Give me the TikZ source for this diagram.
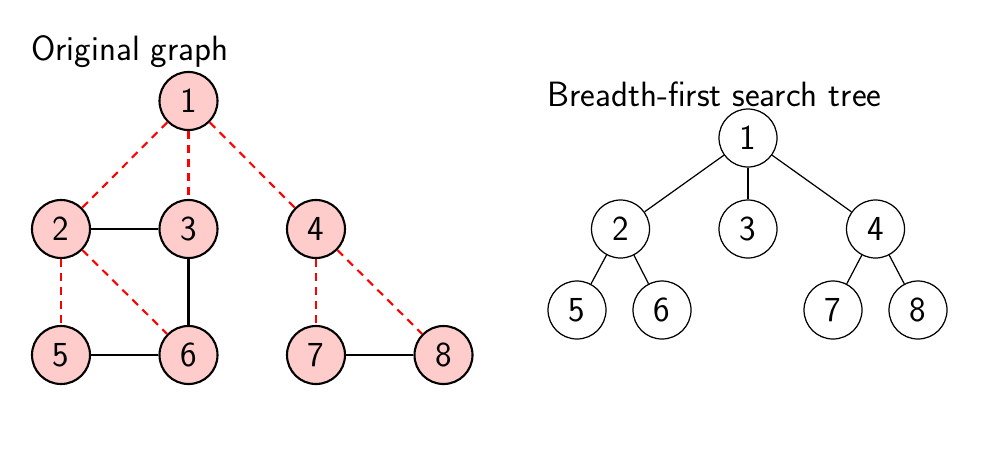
\documentclass[tikz,border=0pt]{standalone}
\usepackage{tikz}
\usetikzlibrary{calc}
\tikzset{
	vtx/.style={circle,draw,line width=1.2pt,fill=red!20,minimum size=1.16cm,inner sep=0pt,font=\fontsize{20}{24}\sffamily},
	tvtx/.style={circle,draw,line width=0.7pt,minimum size=1.16cm,inner sep=0pt,font=\fontsize{20}{24}\sffamily},
	edg/.style={draw,line width=1.2pt},
	bfs/.style={draw,line width=1.2pt,red,dash pattern=on 4.5pt off 3.5pt},
	tedg/.style={draw,line width=0.7pt},
	ttl/.style={anchor=base west,inner sep=0pt,font=\fontsize{20}{24}\sffamily}
}
\begin{document}
\begin{tikzpicture}
			%%%%% START %%%%%
			\def\d{2.55}
			\def\xa{1.22}
			\def\ytop{7.06}
			\def\ymid{4.5}
			\def\ylow{1.98}
			\def\xr{14.96}
			\def\ylowr{2.88}
			
			\useasboundingbox (0,0) rectangle (19.72,9.08);
			
			\node[ttl] (tone) at (0.62,7.88) {Original graph};
			\node[vtx] (g1) at (\xa+\d,\ytop) {1};
			\node[vtx] (g2) at (\xa,\ymid) {2};
			\node[vtx] (g3) at (\xa+\d,\ymid) {3};
			\node[vtx] (g4) at (\xa+2*\d,\ymid) {4};
			\node[vtx] (g5) at (\xa,\ylow) {5};
			\node[vtx] (g6) at (\xa+\d,\ylow) {6};
			\node[vtx] (g7) at (\xa+2*\d,\ylow) {7};
			\node[vtx] (g8) at (\xa+3*\d,\ylow) {8};
			
			\draw[edg] (g2) -- (g3);
			\draw[edg] (g3) -- (g6);
			\draw[edg] (g5) -- (g6);
			\draw[edg] (g7) -- (g8);
			\draw[bfs] (g1) -- (g2);
			\draw[bfs] (g1) -- (g3);
			\draw[bfs] (g1) -- (g4);
			\draw[bfs] (g2) -- (g5);
			\draw[bfs] (g2) -- (g6);
			\draw[bfs] (g4) -- (g7);
			\draw[bfs] (g4) -- (g8);
			
			\node[ttl] (ttwo) at (10.94,6.96) {Breadth-first search tree};
			\node[tvtx] (t1) at (\xr,6.32) {1};
			\node[tvtx] (t2) at (\xr-\d,\ymid) {2};
			\node[tvtx] (t3) at (\xr,\ymid) {3};
			\node[tvtx] (t4) at (\xr+\d,\ymid) {4};
			\node[tvtx] (t5) at (11.54,\ylowr) {5};
			\node[tvtx] (t6) at (13.24,\ylowr) {6};
			\node[tvtx] (t7) at (16.66,\ylowr) {7};
			\node[tvtx] (t8) at (18.36,\ylowr) {8};
			
			\draw[tedg] (t1) -- (t2);
			\draw[tedg] (t1) -- (t3);
			\draw[tedg] (t1) -- (t4);
			\draw[tedg] (t2) -- (t5);
			\draw[tedg] (t2) -- (t6);
			\draw[tedg] (t4) -- (t7);
			\draw[tedg] (t4) -- (t8);
			%%%%% END %%%%%
\end{tikzpicture}
\end{document}
